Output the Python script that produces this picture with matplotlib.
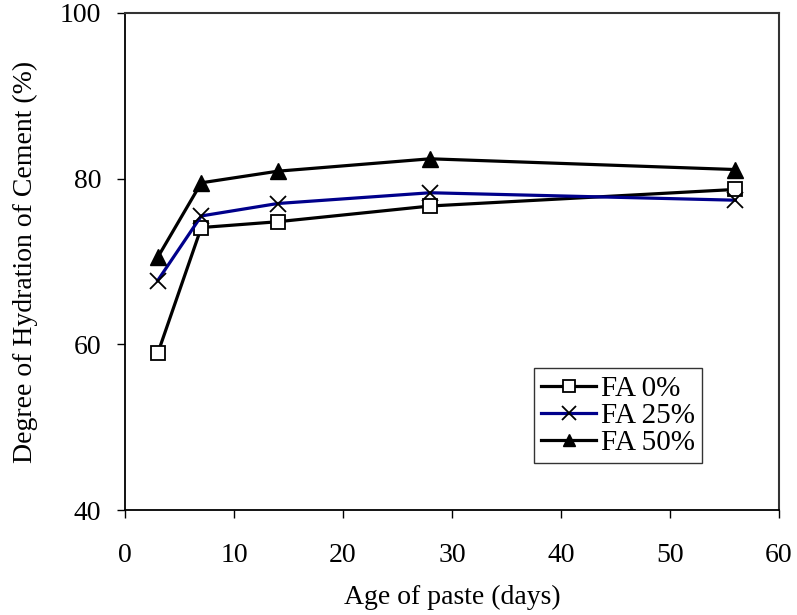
import matplotlib
matplotlib.use("Agg")
import matplotlib.pyplot as plt

plt.rcParams['font.family'] = ['Liberation Serif', 'DejaVu Serif']

# hydration degree vs paste age for each fly ash replacement level
age_days = [3, 7, 14, 28, 56]
fa_0 = [58.9, 74.1, 74.8, 76.7, 78.7]
fa_25 = [67.7, 75.5, 77.0, 78.3, 77.4]
fa_50 = [70.5, 79.5, 80.9, 82.4, 81.1]
labels = ["FA 0%", "FA 25%", "FA 50%"]

fig = plt.figure(figsize=(7.97, 6.15), dpi=100)
ax = fig.add_axes([125 / 797, 1 - 510 / 615, (779 - 125) / 797, (510 - 13) / 615])

ax.plot(age_days, fa_0, color="black", lw=2.3, marker="s", ms=10,
        mfc="white", mec="black", mew=1.3, label=labels[0])
ax.plot(age_days, fa_25, color="#00008b", lw=2.3, marker="x", ms=12,
        mec="black", mew=1.3, label=labels[1])
ax.plot(age_days, fa_50, color="black", lw=2.3, marker="^", ms=11,
        mfc="black", mec="black", label=labels[2])

ax.set_xlim(0, 60)
ax.set_ylim(40, 100)
ax.set_xticks(range(0, 61, 10))
ax.set_yticks(range(40, 101, 20))
ax.tick_params(direction="out", length=6, width=1, labelsize=20)
ax.tick_params(axis="x", pad=18)
ax.tick_params(axis="y", pad=11)

for side in ["left", "bottom"]:
    ax.spines[side].set_linewidth(1.3)
    ax.spines[side].set_color("black")
for side in ["top", "right"]:
    ax.spines[side].set_linewidth(1.5)
    ax.spines[side].set_color("#333333")

ax.set_xlabel("Age of paste (days)", fontsize=20, labelpad=12)
ax.set_ylabel("Degree of Hydration of Cement (%)", fontsize=20, labelpad=16)

leg = ax.legend(loc="lower right", bbox_to_anchor=((702 - 125) / 654, (510 - 463) / 497),
                fontsize=21, frameon=True, fancybox=False, edgecolor="black",
                handlelength=1.9, handletextpad=0.15, borderpad=0.25,
                labelspacing=0.02, borderaxespad=0, markerscale=0.85)
leg.get_frame().set_linewidth(1.0)

fig.savefig("out.png", dpi=100)
